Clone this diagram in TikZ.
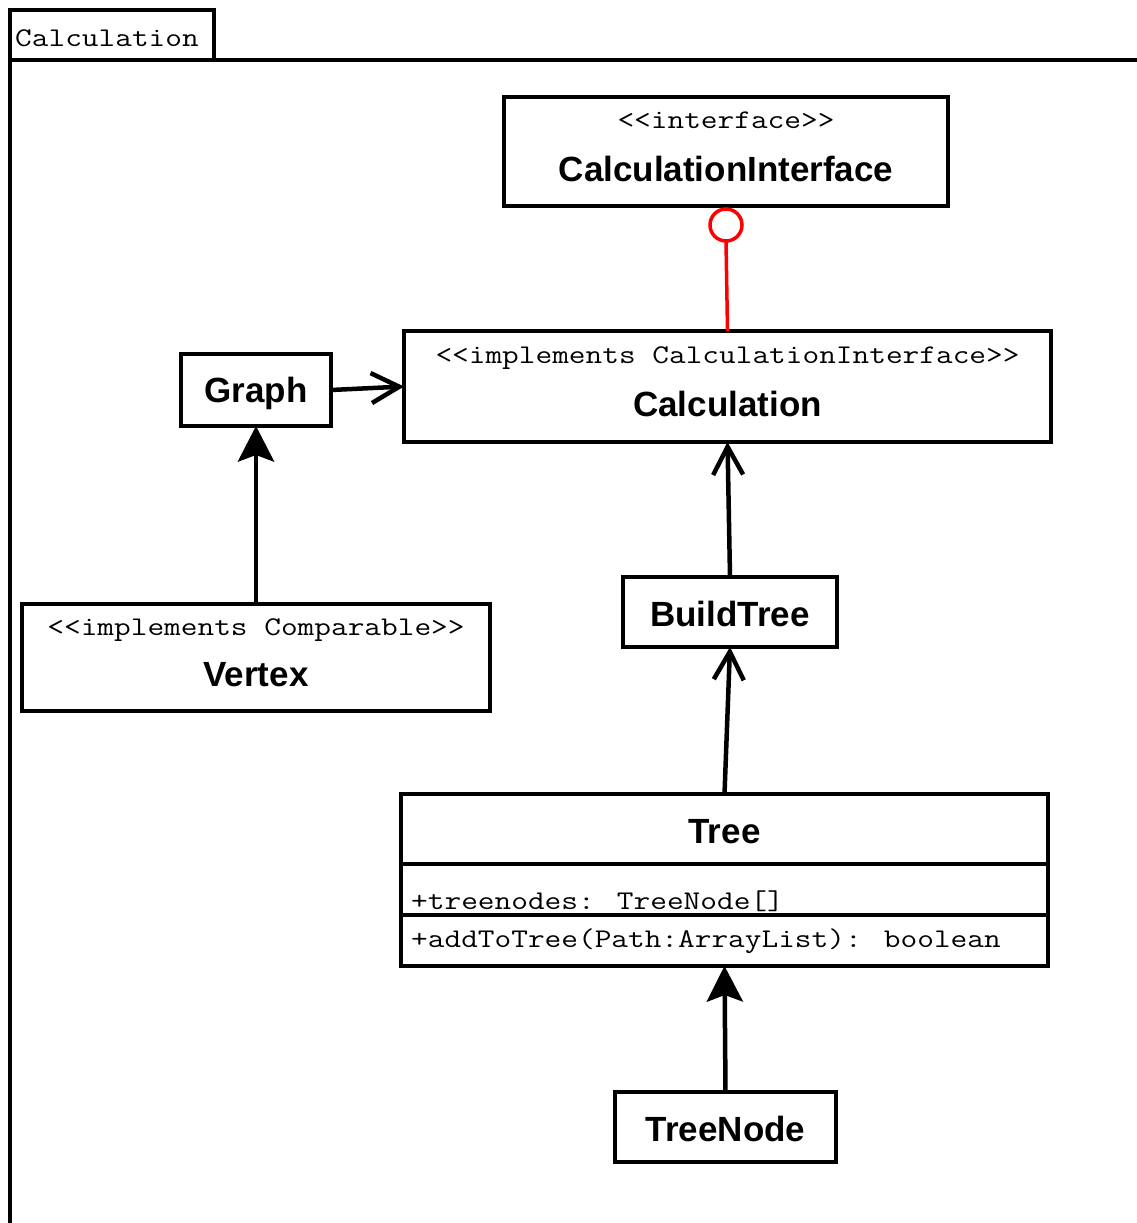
\documentclass[tikz,border=0pt]{standalone}
\usepackage{fontspec}
\setmainfont{Liberation Sans}
\usepackage{graphicx}
\usetikzlibrary{arrows.meta,calc}
\newcommand{\monotxt}[1]{\scalebox{1.2}[1]{\fontsize{27}{32}\selectfont\ttfamily #1}}
\newcommand{\lsym}{<\kern0pt}
\newcommand{\gsym}{>\kern0pt}
\tikzset{
  umlbox/.style={draw=black, line width=4.5pt, fill=white, rectangle, inner sep=0pt, outer sep=0pt},
  clsname/.style={anchor=base, inner sep=0pt, font=\fontsize{35}{40}\selectfont\bfseries},
  stereo/.style={anchor=base, inner sep=0pt},
  attr/.style={anchor=base west, inner sep=0pt},
  openarrow/.style={line width=4.5pt, -{Straight Barb[length=28pt,width=30pt]}},
  fillarrow/.style={line width=4.5pt, -{Stealth[length=36pt,width=37pt,inset=7pt,line width=0pt]}},
  iface/.style={draw=red, line width=3.5pt}
}
\begin{document}
\begin{tikzpicture}[x=1pt,y=-1pt]
\useasboundingbox (0,0) rectangle (1136,1223);
\fill[white] (0,0) rectangle (1136,1223);
% package frame
\draw[line width=4.5pt] (10,1240) -- (10,60) -- (1150,60);
\node[umlbox, minimum width=204pt, minimum height=50pt] (tab) at (112,35) {};
\node[attr] (tabtxt) at (15,47) {\monotxt{Calculation}};
% classes
\node[umlbox, minimum width=444pt, minimum height=109pt] (ci) at (726,151.5) {};
\node[stereo] (cis) at (726,128) {\monotxt{\lsym\lsym interface\gsym\gsym}};
\node[clsname] (cin) at (726,181) {CalculationInterface};

\node[umlbox, minimum width=647pt, minimum height=111pt] (calc) at (727.5,386.5) {};
\node[stereo] (calcs) at (727.5,363) {\monotxt{\lsym\lsym implements CalculationInterface\gsym\gsym}};
\node[clsname] (calcn) at (727.5,416) {Calculation};

\node[umlbox, minimum width=150pt, minimum height=72pt] (graph) at (256,390) {};
\node[clsname] (graphn) at (256,402) {Graph};

\node[umlbox, minimum width=468pt, minimum height=107pt] (vertex) at (256,657.5) {};
\node[stereo] (vertexs) at (256,635) {\monotxt{\lsym\lsym implements Comparable\gsym\gsym}};
\node[clsname] (vertexn) at (256,686) {Vertex};

\node[umlbox, minimum width=214pt, minimum height=70pt] (bt) at (730,612) {};
\node[clsname] (btn) at (730,626) {BuildTree};

\node[umlbox, minimum width=647pt, minimum height=172pt] (tree) at (724.5,880) {};
\node[clsname] (treen) at (724.5,843) {Tree};
\draw[line width=4.5pt] ($(tree.north west)+(0,70)$) -- ($(tree.north east)+(0,70)$);
\draw[line width=4.5pt] ($(tree.north west)+(0,121)$) -- ($(tree.north east)+(0,121)$);
\node[attr] (treea) at (411,909) {\monotxt{+treenodes: TreeNode[]}};
\node[attr] (treem) at (411,947) {\monotxt{+addToTree(Path:ArrayList): boolean}};

\node[umlbox, minimum width=221pt, minimum height=70pt] (tn) at (725.5,1127) {};
\node[clsname] (tnn) at (725.5,1141) {TreeNode};

% interface lollipop
\node[circle, iface, fill=white, minimum size=32pt, inner sep=0pt, outer sep=0pt] (lol) at (726,225) {};
\draw[iface] (calc.north) -- (lol.south);

% connectors
\draw[openarrow] (graph.east) -- (calc.west);
\draw[fillarrow] (vertex.north) -- (graph.south);
\draw[openarrow] (bt.north) -- (calc.south);
\draw[openarrow] (tree.north) -- (bt.south);
\draw[fillarrow] (tn.north) -- (tree.south);
\end{tikzpicture}
\end{document}
